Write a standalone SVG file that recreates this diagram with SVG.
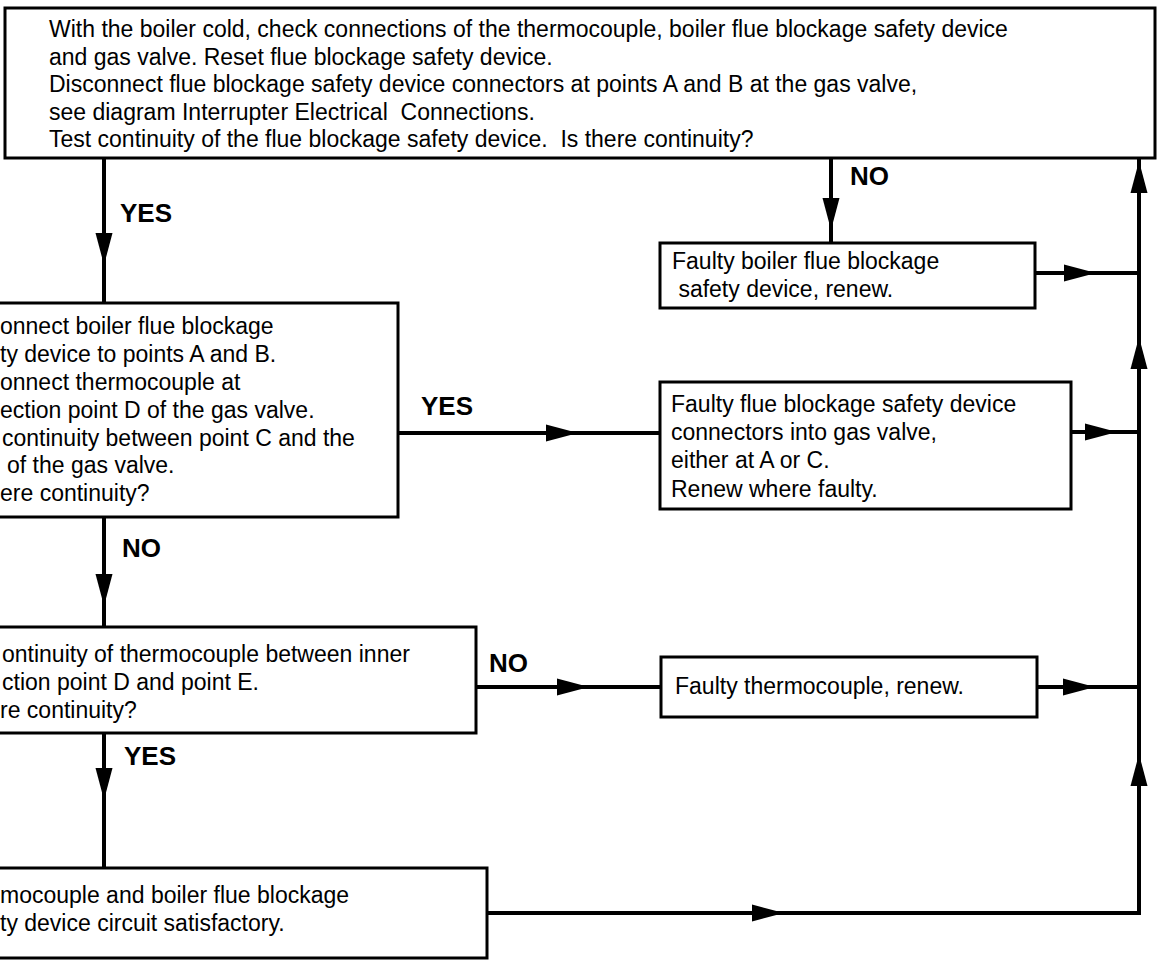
<svg xmlns="http://www.w3.org/2000/svg" width="1160" height="960" viewBox="0 0 1160 960">
<style>
.box{fill:#fff;stroke:#000;stroke-width:3}
.ln{fill:none;stroke:#000;stroke-width:4}
.t{font-family:"Liberation Sans",Arial,sans-serif;font-size:23px;fill:#000;white-space:pre}
.lb{font-family:"Liberation Sans",Arial,sans-serif;font-size:26px;font-weight:bold;fill:#000}
</style>
<defs>
<path id="ah" d="M0,0 L-32,-8.5 L-32,8.5 Z" fill="#000"/>
</defs>
<rect width="1160" height="960" fill="#fff"/>
<g id="connectors">
<path class="ln" d="M104,158 V303"/>
<path class="ln" d="M831,158 V243"/>
<path class="ln" d="M1035,273 H1139"/>
<path class="ln" d="M398,433 H660"/>
<path class="ln" d="M1071,432 H1139"/>
<path class="ln" d="M104,517 V627"/>
<path class="ln" d="M476,687 H661"/>
<path class="ln" d="M1037,687 H1139"/>
<path class="ln" d="M104,733 V868"/>
<path class="ln" d="M487,913 H1139 V158"/>
<use href="#ah" transform="translate(104,265) rotate(90)"/>
<use href="#ah" transform="translate(831,230) rotate(90)"/>
<use href="#ah" transform="translate(1096,273)"/>
<use href="#ah" transform="translate(1139,161) rotate(-90)"/>
<use href="#ah" transform="translate(1139,337) rotate(-90)"/>
<use href="#ah" transform="translate(578,433)"/>
<use href="#ah" transform="translate(1117,432)"/>
<use href="#ah" transform="translate(104,606) rotate(90)"/>
<use href="#ah" transform="translate(589,687)"/>
<use href="#ah" transform="translate(1095,687)"/>
<use href="#ah" transform="translate(104,800) rotate(90)"/>
<use href="#ah" transform="translate(784,913)"/>
<use href="#ah" transform="translate(1139,754) rotate(-90)"/>
<text class="lb" x="120" y="222">YES</text>
<text class="lb" x="850" y="185">NO</text>
<text class="lb" x="421" y="415">YES</text>
<text class="lb" x="122" y="557">NO</text>
<text class="lb" x="489" y="672">NO</text>
<text class="lb" x="124" y="765">YES</text>
</g>
<g id="n-start">
<rect class="box" x="5" y="8" width="1150" height="150"/>
<text class="t" x="49" y="37">With the boiler cold, check connections of the thermocouple, boiler flue blockage safety device</text>
<text class="t" x="49" y="64.5">and gas valve. Reset flue blockage safety device.</text>
<text class="t" x="49" y="92">Disconnect flue blockage safety device connectors at points A and B at the gas valve,</text>
<text class="t" x="49" y="119.5">see diagram Interrupter Electrical  Connections.</text>
<text class="t" x="49" y="147">Test continuity of the flue blockage safety device.  Is there continuity?</text>
</g>
<g id="n-faulty-device">
<rect class="box" x="660" y="243" width="375" height="65"/>
<text class="t" x="672" y="269">Faulty boiler flue blockage</text>
<text class="t" x="672" y="297"> safety device, renew.</text>
</g>
<g id="n-reconnect">
<rect class="box" x="-10" y="303" width="408" height="214"/>
<text class="t" x="0" y="334">onnect boiler flue blockage</text>
<text class="t" x="0" y="362">ty device to points A and B.</text>
<text class="t" x="0" y="390">onnect thermocouple at</text>
<text class="t" x="0" y="418">ection point D of the gas valve.</text>
<text class="t" x="2" y="446">continuity between point C and the</text>
<text class="t" x="7" y="473">of the gas valve.</text>
<text class="t" x="0" y="501">ere continuity?</text>
</g>
<g id="n-faulty-connectors">
<rect class="box" x="660" y="382" width="411" height="127"/>
<text class="t" x="671" y="412">Faulty flue blockage safety device</text>
<text class="t" x="671" y="440">connectors into gas valve,</text>
<text class="t" x="671" y="468">either at A or C.</text>
<text class="t" x="671" y="497">Renew where faulty.</text>
</g>
<g id="n-test-thermocouple">
<rect class="box" x="-10" y="627" width="486" height="106"/>
<text class="t" x="2" y="662">ontinuity of thermocouple between inner</text>
<text class="t" x="2" y="690">ction point D and point E.</text>
<text class="t" x="0" y="718">re continuity?</text>
</g>
<g id="n-faulty-thermocouple">
<rect class="box" x="661" y="657" width="376" height="60"/>
<text class="t" x="675" y="694">Faulty thermocouple, renew.</text>
</g>
<g id="n-satisfactory">
<rect class="box" x="-10" y="868" width="497" height="90"/>
<text class="t" x="0" y="903">mocouple and boiler flue blockage</text>
<text class="t" x="0" y="931">ty device circuit satisfactory.</text>
</g>
</svg>
